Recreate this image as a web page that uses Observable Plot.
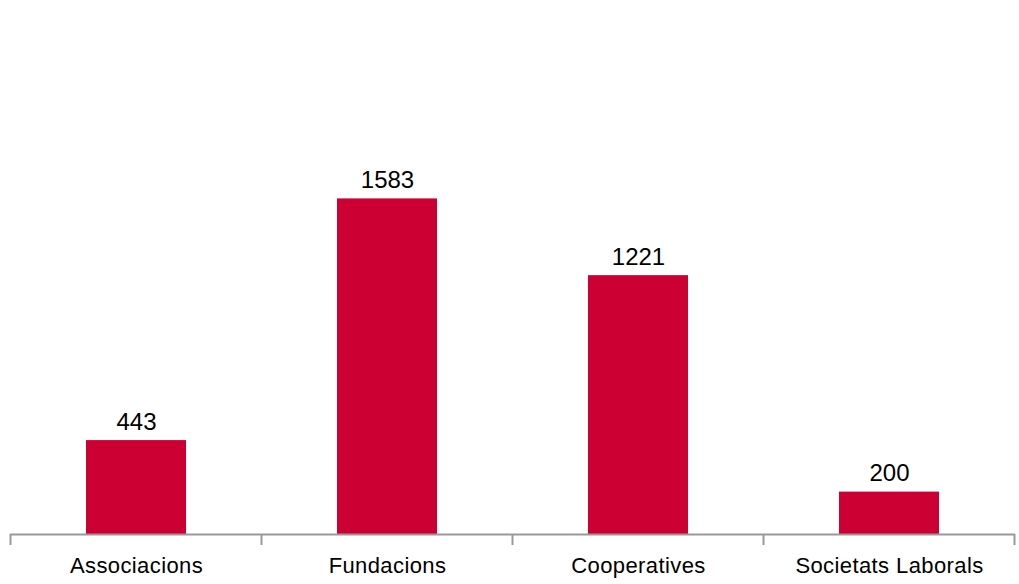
<!DOCTYPE html>
<html>
<head>
<meta charset="utf-8">
<script src="https://cdn.jsdelivr.net/npm/d3@7"></script>
<script src="https://cdn.jsdelivr.net/npm/@observablehq/plot@0.6"></script>
<style>
  html, body { margin: 0; padding: 0; background: #fff; }
  #chart svg { display: block; }
</style>
</head>
<body>
<div id="chart"></div>
<script>
const categories = ["Associacions", "Fundacions", "Cooperatives", "Societats Laborals"];
const values = [443, 1583, 1221, 200];

const data = categories.map((c, i) => ({category: c, value: values[i]}));

const W = 1019, H = 584;
const mL = 10, mR = 4, mT = 4, mB = 50;

const plot = Plot.plot({
  width: W,
  height: H,
  marginLeft: mL,
  marginRight: mR,
  marginTop: mT,
  marginBottom: mB,
  style: {fontFamily: "'Liberation Sans', Arial, sans-serif", background: "#fff"},
  x: {domain: categories, paddingInner: 0.6, paddingOuter: 0.3, label: null},
  y: {domain: [0, 2500], axis: null},
  marks: [
    Plot.barY(data, {x: "category", y: "value", fill: "#CC0033"}),
    Plot.ruleY([0], {stroke: "#999", strokeWidth: 2}),
    Plot.text(data, {x: "category", y: "value", text: d => String(d.value), dy: -11, lineAnchor: "bottom", fontSize: 24, fill: "#000"}),
    Plot.axisX({tickSize: 0, tickPadding: 23, fontSize: 22, fill: "#000"})
  ]
});
document.getElementById("chart").appendChild(plot);

// boundary ticks under the baseline, derived from the x band scale
const xs = plot.scale("x");
const ys = plot.scale("y");
const y0 = ys.apply(0);
const svg = d3.select(plot);
svg.selectAll("g[aria-label='x-axis tick label'] text").style("letter-spacing", "0.4px");
const gap = (xs.step - xs.bandwidth) / 2;
const bounds = categories.map(c => xs.apply(c) - gap);
bounds.push(xs.apply(categories[categories.length - 1]) + xs.bandwidth + gap);
svg.append("g").selectAll("line").data(bounds).join("line")
  .attr("x1", d => d).attr("x2", d => d)
  .attr("y1", y0).attr("y2", y0 + 11)
  .attr("stroke", "#999").attr("stroke-width", 2);
</script>
</body>
</html>
